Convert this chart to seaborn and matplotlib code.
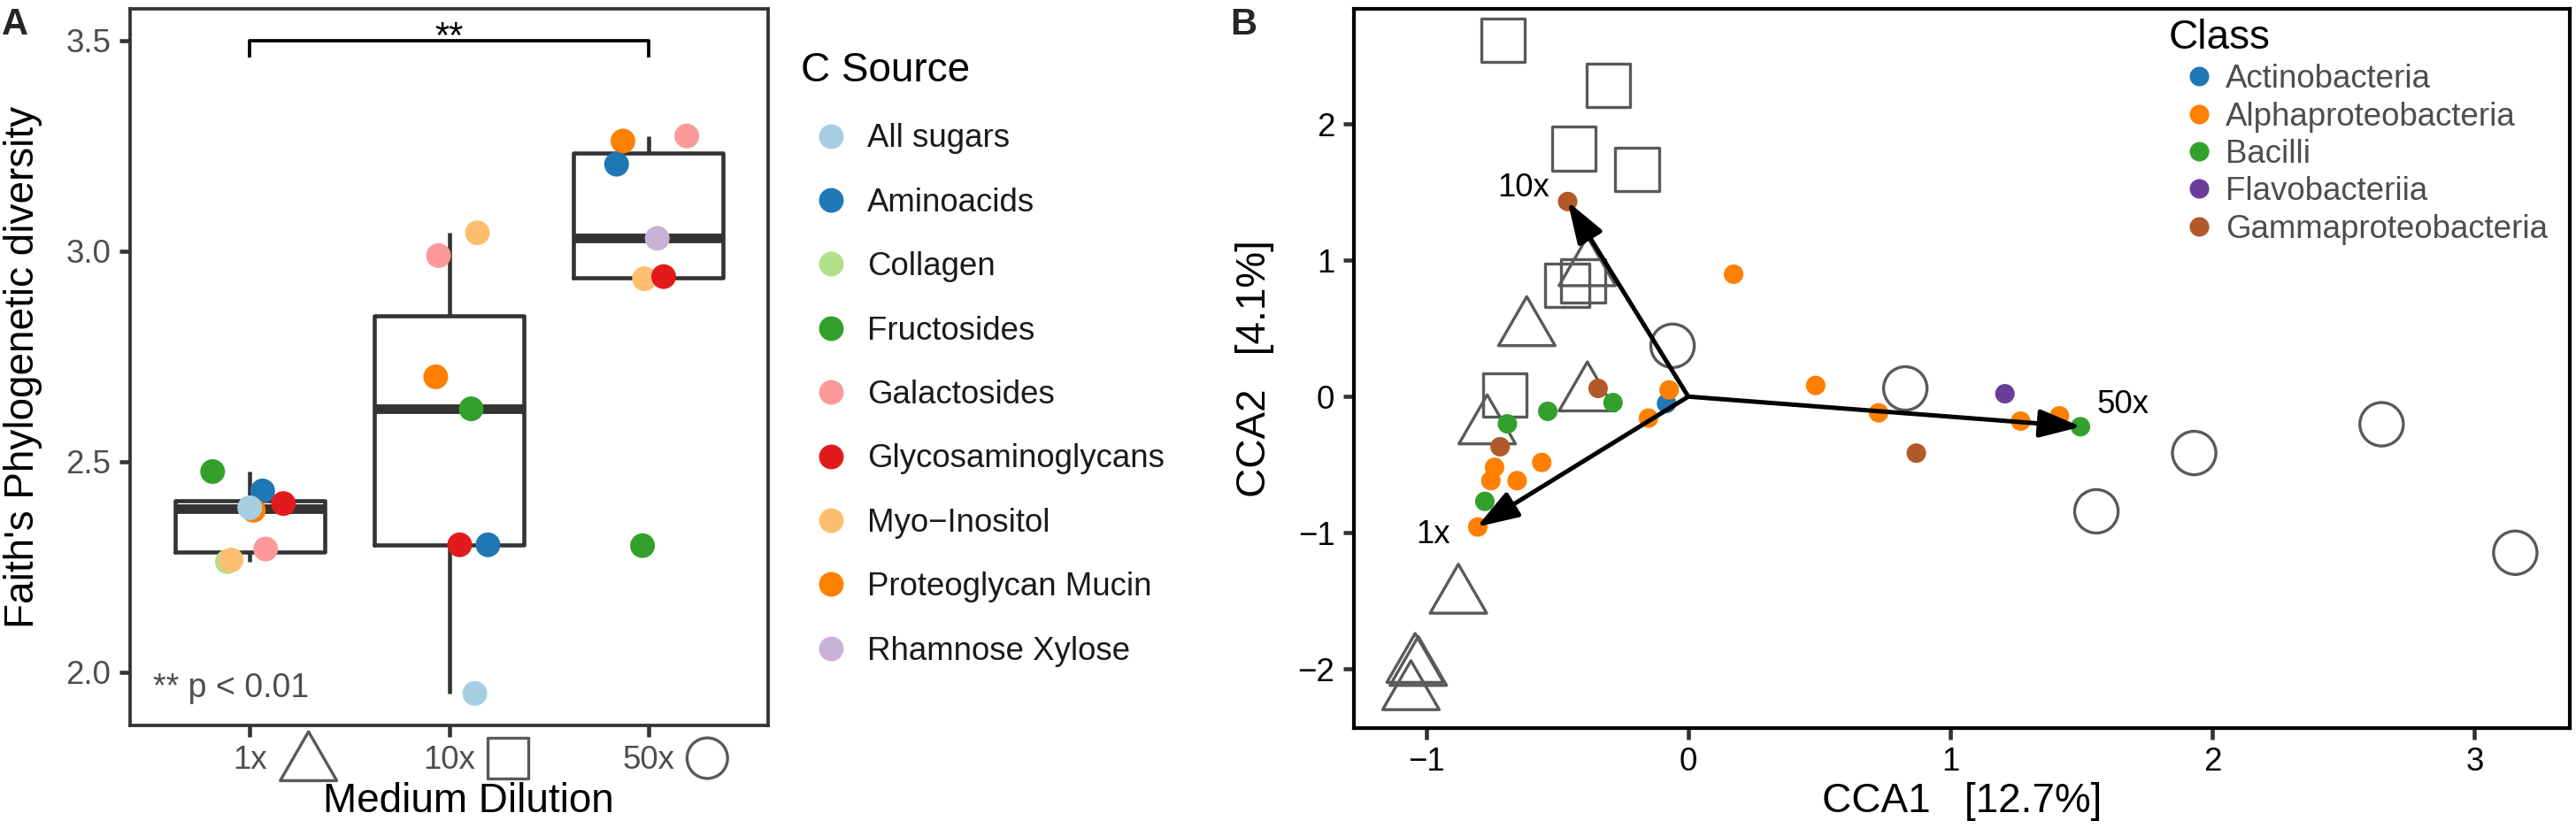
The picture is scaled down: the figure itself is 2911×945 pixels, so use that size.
import matplotlib
matplotlib.use("Agg")
import matplotlib.pyplot as plt
from matplotlib.lines import Line2D
from matplotlib.path import Path
import pandas as pd
import seaborn as sns

# ---- panel A: Faith's PD by medium dilution ----
dilutions = ["1x", "10x", "50x"]
sources = ["All sugars", "Aminoacids", "Collagen", "Fructosides", "Galactosides",
           "Glycosaminoglycans", "Myo\u2212Inositol", "Proteoglycan Mucin",
           "Rhamnose Xylose"]
source_colors = ["#A6CEE3", "#1F78B4", "#B2DF8A", "#33A02C", "#FB9A99",
                 "#E31A1C", "#FDBF6F", "#FF7F00", "#CAB2D6"]

faith_dilution = ["1x"] * 8 + ["10x"] * 7 + ["50x"] * 7
faith_source = [
    "Fructosides", "Aminoacids", "Glycosaminoglycans", "Proteoglycan Mucin",
    "All sugars", "Galactosides", "Collagen", "Myo\u2212Inositol",
    "Galactosides", "Myo\u2212Inositol", "Proteoglycan Mucin", "Fructosides",
    "Glycosaminoglycans", "Aminoacids", "All sugars",
    "Proteoglycan Mucin", "Galactosides", "Aminoacids", "Rhamnose Xylose",
    "Myo\u2212Inositol", "Glycosaminoglycans", "Fructosides",
]
faith_value = [2.476, 2.430, 2.400, 2.384, 2.390, 2.292, 2.262, 2.266,
               2.989, 3.043, 2.701, 2.625, 2.302, 2.302, 1.949,
               3.261, 3.273, 3.206, 3.030, 2.934, 2.939, 2.300]
# horizontal jitter (category units)
faith_jitter = [-0.186, 0.065, 0.169, 0.018, 0.0, 0.080, -0.112, -0.093,
                -0.053, 0.142, -0.067, 0.111, 0.053, 0.195, 0.129,
                -0.128, 0.192, -0.160, 0.044, -0.020, 0.076, -0.030]

# ---- panel B: CCA ordination ----
site_1x_x = [-0.616, -0.767, -0.385, -0.385, -0.877, -1.042, -1.030, -1.058]
site_1x_y = [0.494, -0.227, 0.015, 0.934, -1.470, -1.978, -2.000, -2.178]
site_10x_x = [-0.707, -0.305, -0.438, -0.195, -0.462, -0.401, -0.699]
site_10x_y = [2.616, 2.286, 1.820, 1.666, 0.817, 0.849, 0.012]
site_50x_x = [-0.060, 0.828, 1.930, 2.645, 1.557, 3.155]
site_50x_y = [0.373, 0.060, -0.414, -0.203, -0.842, -1.146]

classes = ["Actinobacteria", "Alphaproteobacteria", "Bacilli",
           "Flavobacteriia", "Gammaproteobacteria"]
class_colors = ["#1F78B4", "#FF7F00", "#33A02C", "#6A3D9A", "#B15928"]

isolate_class = (["Actinobacteria"] + ["Gammaproteobacteria"] * 4
                 + ["Alphaproteobacteria"] * 12 + ["Bacilli"] * 5
                 + ["Flavobacteriia"])
isolate_x = [-0.083,
             -0.460, 0.870, -0.344, -0.718,
             0.173, 0.486, 0.726, 1.268, 1.416, -0.073, -0.152, -0.559,
             -0.739, -0.753, -0.653, -0.803,
             1.496, -0.287, -0.536, -0.690, -0.776,
             1.208]
isolate_y = [-0.050,
             1.432, -0.415, 0.060, -0.368,
             0.898, 0.082, -0.119, -0.180, -0.141, 0.049, -0.158, -0.483,
             -0.519, -0.617, -0.617, -0.957,
             -0.221, -0.044, -0.108, -0.200, -0.769,
             0.021]

arrow_labels = ["1x", "10x", "50x"]
arrow_x = [-0.807, -0.460, 1.499]
arrow_y = [-0.957, 1.432, -0.221]
arrow_label_x = [-0.972, -0.630, 1.657]
arrow_label_y = [-1.011, 1.531, -0.060]

BOX = "#333333"
SHAPE = "#595959"
GREY_TXT = "#4D4D4D"
TRIANGLE = Path([(0, 1), (-0.866, -0.5), (0.866, -0.5), (0, 1)], closed=True)

sns.set_style("ticks")
plt.rcParams["font.family"] = ["Liberation Sans", "DejaVu Sans"]
plt.rcParams["axes.unicode_minus"] = True

W, H = 2911, 945
fig = plt.figure(figsize=(W / 300, H / 300), dpi=300)
ax_a = fig.add_axes([147 / W, 125 / H, 721 / W, 810 / H])
ax_b = fig.add_axes([1530 / W, 122.3 / H, 1374 / W, 812.7 / H])

# ---------------- panel A ----------------
df_a = pd.DataFrame({"dilution": faith_dilution, "source": faith_source,
                     "faith": faith_value, "jitter": faith_jitter})
df_a["pos"] = df_a["dilution"].map({d: i for i, d in enumerate(dilutions)}) + df_a["jitter"]

sns.boxplot(data=df_a, x="dilution", y="faith", order=dilutions, ax=ax_a,
            width=0.75, fill=False, color=BOX, linewidth=1.1,
            showcaps=False, showfliers=False,
            medianprops={"linewidth": 2.6}, zorder=1)
sns.scatterplot(data=df_a, x="pos", y="faith", hue="source", hue_order=sources,
                palette=dict(zip(sources, source_colors)), s=45, linewidth=0,
                legend=False, ax=ax_a, zorder=3)

ax_a.set_xlim(-0.6, 2.6)
ax_a.set_ylim(1.873, 3.575)
ax_a.set_xticks(range(len(dilutions)))
ax_a.set_xticklabels(dilutions)
ax_a.set_yticks([2.0, 2.5, 3.0, 3.5])
ax_a.set_yticklabels(["2.0", "2.5", "3.0", "3.5"])
ax_a.tick_params(length=3, width=1.1, color=BOX, labelcolor=GREY_TXT,
                 labelsize=8.8, pad=2.2)
for sp in ax_a.spines.values():
    sp.set_color(BOX)
    sp.set_linewidth(0.9)
ax_a.set_xlabel("Medium Dilution", fontsize=11, color="black")
ax_a.set_ylabel("Faith's Phylogenetic diversity", fontsize=11, color="black")
ax_a.xaxis.set_label_coords(0.531, -0.079)
ax_a.yaxis.set_label_coords(-0.137, 0.5)

# shapes next to the tick labels
trans = ax_a.get_xaxis_transform()
tick_shapes = [(TRIANGLE, 314, -0.0543), ("s", 121, -0.0457), ("o", 121, -0.0457)]
for i, (mk, sz, yy) in enumerate(tick_shapes):
    ax_a.scatter(i + 0.295, yy, marker=mk, s=sz, facecolor="none",
                 edgecolor=SHAPE, linewidth=0.8, transform=trans, clip_on=False)

# significance bracket between 1x and 50x
ax_a.plot([0, 0, 2, 2], [3.46, 3.5, 3.5, 3.46], color="black", lw=0.9,
          solid_capstyle="butt")
ax_a.text(1, 3.482, "**", ha="center", va="baseline", fontsize=10, color="black")
ax_a.text(0.036, 0.0395, "** p < 0.01", transform=ax_a.transAxes,
          va="baseline", ha="left", fontsize=9, color=GREY_TXT)

handles_a = [Line2D([], [], ls="none", marker="o", markersize=6.7,
                    markerfacecolor=c, markeredgewidth=0) for c in source_colors]
leg_a = fig.legend(handles_a, sources, title="C Source", loc="upper left",
                   bbox_to_anchor=(905 / W, 1 - 58 / H),
                   bbox_transform=fig.transFigure, frameon=False,
                   fontsize=8.8, title_fontsize=11, handlelength=1.85,
                   handletextpad=0.2, labelspacing=1.02, borderpad=0,
                   borderaxespad=0, alignment="left", labelcolor="#1A1A1A")
leg_a.get_title().set_color("black")

# ---------------- panel B ----------------
sns.scatterplot(x=site_1x_x, y=site_1x_y, marker=TRIANGLE, s=314,
                facecolor="none", edgecolor=SHAPE, linewidth=0.8, ax=ax_b)
sns.scatterplot(x=site_10x_x, y=site_10x_y, marker="s", s=139,
                facecolor="none", edgecolor=SHAPE, linewidth=0.8, ax=ax_b)
sns.scatterplot(x=site_50x_x, y=site_50x_y, marker="o", s=139,
                facecolor="none", edgecolor=SHAPE, linewidth=0.8, ax=ax_b)

df_b = pd.DataFrame({"cls": isolate_class, "x": isolate_x, "y": isolate_y})
sns.scatterplot(data=df_b, x="x", y="y", hue="cls", hue_order=classes,
                palette=dict(zip(classes, class_colors)), s=28, linewidth=0,
                legend=False, ax=ax_b, zorder=3)

for tx, ty in zip(arrow_x, arrow_y):
    ax_b.annotate("", xy=(tx, ty), xytext=(0, 0),
                  arrowprops=dict(arrowstyle="-|>,head_length=0.8,head_width=0.27",
                                  color="black", lw=1.2, shrinkA=0, shrinkB=0,
                                  mutation_scale=12),
                  zorder=5)
for lab, lx, ly in zip(arrow_labels, arrow_label_x, arrow_label_y):
    ax_b.text(lx, ly, lab, ha="center", va="center", fontsize=8.8, color="black")

ax_b.set_xlim(-1.2755, 3.363)
ax_b.set_ylim(-2.431, 2.846)
ax_b.set_xticks([-1, 0, 1, 2, 3])
ax_b.set_yticks([-2, -1, 0, 1, 2])
ax_b.tick_params(length=3, width=1.1, color=BOX, labelcolor="black",
                 labelsize=8.8, pad=2.2)
for sp in ax_b.spines.values():
    sp.set_color("black")
    sp.set_linewidth(1.0)
ax_b.set_xlabel("CCA1   [12.7%]", fontsize=11, color="black")
ax_b.set_ylabel("CCA2   [4.1%]", fontsize=11, color="black")
ax_b.xaxis.set_label_coords(0.5, -0.0754)
ax_b.yaxis.set_label_coords(-0.0655, 0.5)

handles_b = [Line2D([], [], ls="none", marker="o", markersize=5.3,
                    markerfacecolor=c, markeredgewidth=0) for c in class_colors]
leg_b = ax_b.legend(handles_b, classes, title="Class", loc="upper left",
                    bbox_to_anchor=(0.670, 0.9865), frameon=False, fontsize=8.8,
                    title_fontsize=11, handlelength=1.9, handletextpad=-0.15,
                    labelspacing=0.2, borderpad=0, borderaxespad=0,
                    alignment="left", labelcolor=GREY_TXT)
leg_b.get_title().set_color("black")

fig.text(2 / W, 1 - 8 / H, "A", fontweight="bold", fontsize=10, va="top")
fig.text(1390 / W, 1 - 8 / H, "B", fontweight="bold", fontsize=10, va="top")

fig.savefig("out.png", dpi=300)
